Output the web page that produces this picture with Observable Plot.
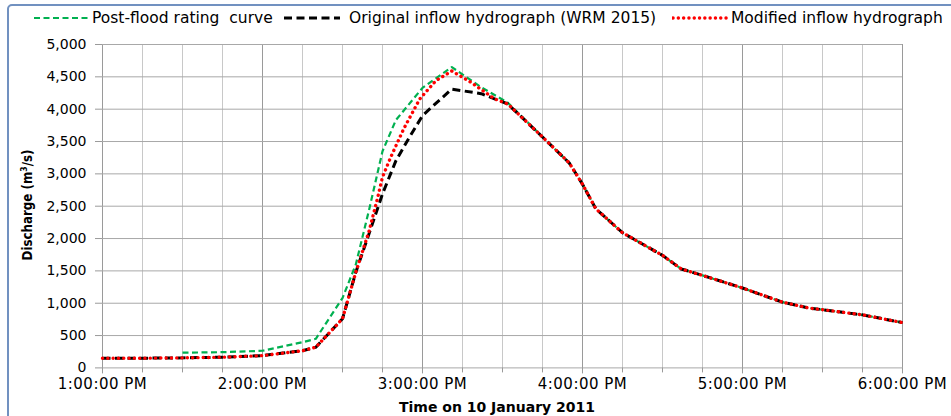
<!DOCTYPE html>
<html>
<head>
<meta charset="utf-8">
<script src="https://cdn.jsdelivr.net/npm/d3@7"></script>
<script src="https://cdn.jsdelivr.net/npm/@observablehq/plot@0.6"></script>
<style>
html, body { margin: 0; padding: 0; background: #fff; overflow: hidden; }
#wrap { position: relative; width: 951px; height: 416px; overflow: hidden; font-family: "DejaVu Sans", sans-serif; color: #000; }
#frame { position: absolute; left: 7px; top: 4px; width: 1000px; height: 500px; border: 2px solid #7191c0; border-radius: 5px; box-sizing: border-box; pointer-events: none; }
#legend { position: relative; height: 34px; }
#legend .sw { position: absolute; top: 13px; }
#legend .lt { position: absolute; top: 9px; font-size: 15.5px; line-height: 18px; white-space: pre; }
#chart { position: relative; height: 382px; }
#chart g[aria-label="x-axis tick label"] text { font-size: 15px; letter-spacing: 0.5px; }
#ytitle { position: absolute; left: 27px; top: 205px; transform: translate(-50%, -50%) rotate(-90deg); font-weight: bold; font-size: 13.2px; white-space: nowrap; font-stretch: condensed; }
#xtitle { position: absolute; left: 497px; top: 407px; transform: translate(-50%, -50%); font-weight: bold; font-size: 14px; white-space: nowrap; }
</style>
</head>
<body>
<div id="wrap">
  <div id="legend"></div>
  <div id="chart"></div>
  <div id="ytitle">Discharge (m<sup style="font-size:8.5px">3</sup>/s)</div>
  <div id="xtitle">Time on 10 January 2011</div>
  <div id="frame"></div>
</div>
<script>
// ---------- data ----------
const seriesNames = ["Post-flood rating  curve", "Original inflow hydrograph (WRM 2015)", "Modified inflow hydrograph"];

const greenTimes = ["13:30","13:45","14:00","14:15","14:20","14:30","14:35","14:40","14:45","14:50","15:00","15:11","15:22","15:32","15:45","15:55","16:00","16:05","16:15","16:30","16:37","16:45","17:00","17:15","17:25","17:30","17:45","18:00"];
const greenValues = [235, 243, 265, 397, 450, 1080, 1600, 2450, 3350, 3830, 4330, 4650, 4340, 4100, 3570, 3170, 2840, 2460, 2090, 1740, 1530, 1430, 1235, 1016, 925, 900, 820, 700];

const originalTimes = ["13:00","13:15","13:30","13:45","14:00","14:15","14:20","14:30","14:35","14:40","14:45","14:50","14:55","15:00","15:05","15:11","15:22","15:32","15:45","15:55","16:00","16:05","16:15","16:30","16:37","16:45","17:00","17:15","17:25","17:30","17:45","18:00"];
const originalValues = [150, 150, 155, 165, 190, 265, 320, 760, 1480, 2080, 2690, 3200, 3560, 3900, 4090, 4310, 4240, 4080, 3570, 3170, 2840, 2460, 2090, 1740, 1530, 1430, 1235, 1016, 925, 900, 820, 700];

const modifiedTimes = ["13:00","13:15","13:30","13:45","14:00","14:15","14:20","14:30","14:35","14:40","14:43","14:45","14:48","14:53","14:59","15:05","15:11","15:18","15:27","15:32","15:45","15:55","16:00","16:05","16:15","16:30","16:37","16:45","17:00","17:15","17:25","17:30","17:45","18:00"];
const modifiedValues = [150, 150, 155, 165, 190, 265, 320, 760, 1480, 2120, 2600, 2950, 3250, 3700, 4160, 4440, 4590, 4420, 4160, 4080, 3570, 3170, 2840, 2460, 2090, 1740, 1530, 1430, 1235, 1016, 925, 900, 820, 700];

const xStart = "13:00", xEnd = "18:00";
const yTicks = [0, 500, 1000, 1500, 2000, 2500, 3000, 3500, 4000, 4500, 5000];

// ---------- helpers ----------
const t = s => { const [h, m] = s.split(":").map(Number); return new Date(Date.UTC(2011, 0, 10, h, m)); };
const rows = (times, values) => times.map((s, i) => ({time: t(s), value: values[i]}));
const hourTicks = d3.utcHour.range(t(xStart), d3.utcMinute.offset(t(xEnd), 1));
const quarterTicks = d3.utcMinute.every(15).range(t(xStart), d3.utcMinute.offset(t(xEnd), 1));
const fmt = d3.utcFormat("%-I:%M:%S %p");

const styles = [
  {stroke: "#00b050", strokeWidth: 2.2, strokeDasharray: "6,3.5", strokeLinecap: "butt"},
  {stroke: "#000000", strokeWidth: 3, strokeDasharray: "8,4.5", strokeLinecap: "butt"},
  {stroke: "#ff0000", strokeWidth: 3.4, strokeDasharray: "0.1,5.2", strokeLinecap: "round"}
];

// ---------- legend ----------
const legendSwatchX = [33, 283, 672];
const legendTextX = [92, 349, 731];
const legend = document.getElementById("legend");
seriesNames.forEach((name, i) => {
  const s = styles[i];
  const sw = document.createElementNS("http://www.w3.org/2000/svg", "svg");
  sw.setAttribute("class", "sw");
  sw.setAttribute("width", 58); sw.setAttribute("height", 10);
  sw.style.left = legendSwatchX[i] + "px";
  sw.innerHTML = `<line x1="1" y1="5" x2="57" y2="5" stroke="${s.stroke}" stroke-width="${s.strokeWidth}" stroke-dasharray="${s.strokeDasharray}" stroke-linecap="${s.strokeLinecap}"/>`;
  legend.appendChild(sw);
  const tx = document.createElement("span");
  tx.className = "lt";
  tx.style.left = legendTextX[i] + "px";
  tx.textContent = name;
  legend.appendChild(tx);
});

// ---------- chart ----------
const chart = Plot.plot({
  width: 951,
  height: 382,
  marginLeft: 102,
  marginRight: 49,
  marginTop: 10,
  marginBottom: 48.6,
  style: {fontFamily: "DejaVu Sans, sans-serif", fontSize: "14px", background: "transparent", color: "#000", overflow: "visible"},
  x: {type: "utc", domain: [t(xStart), t(xEnd)]},
  y: {domain: [0, 5000]},
  marks: [
    Plot.gridX(quarterTicks, {stroke: "#c8c8c8", strokeOpacity: 1}),
    Plot.gridX(hourTicks, {stroke: "#9a9a9a", strokeOpacity: 1}),
    Plot.gridY(yTicks, {stroke: "#a8a8a8", strokeOpacity: 1}),
    Plot.axisX(quarterTicks, {tickSize: 5, stroke: "#9a9a9a", tickFormat: () => "", label: null}),
    Plot.axisX(hourTicks, {tickSize: 6, tickPadding: 4, stroke: "#9a9a9a", fill: "#000", tickFormat: fmt, label: null}),
    Plot.axisY(yTicks, {tickSize: 7, tickPadding: 9, stroke: "#9a9a9a", fill: "#000", tickFormat: d3.format(","), label: null}),
    Plot.line(rows(greenTimes, greenValues), {x: "time", y: "value", ...styles[0]}),
    Plot.line(rows(originalTimes, originalValues), {x: "time", y: "value", ...styles[1]}),
    Plot.line(rows(modifiedTimes, modifiedValues), {x: "time", y: "value", ...styles[2]})
  ]
});
document.getElementById("chart").appendChild(chart);
</script>
</body>
</html>
